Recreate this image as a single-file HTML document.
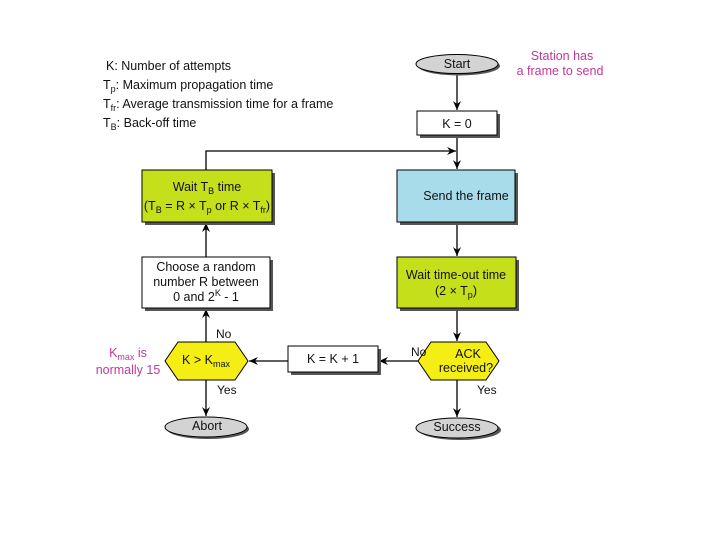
<!DOCTYPE html>
<html><head><style>
body{margin:0;background:#fff;}
svg{display:block;font-family:"Liberation Sans",sans-serif;}
</style></head><body>
<svg width="720" height="540" viewBox="0 0 720 540" xmlns="http://www.w3.org/2000/svg">
<defs>
<marker id="a" markerWidth="10" markerHeight="10" refX="9" refY="5" orient="auto" markerUnits="userSpaceOnUse">
<path d="M0,1 L9,5 L0,9 L3,5 Z" fill="#000"/></marker>
</defs>
<g font-size="12.5" fill="#111">
<text x="106" y="70">K: Number of attempts</text>
<text x="103" y="89">T<tspan font-size="9" dy="3">p</tspan><tspan dy="-3">: Maximum propagation time</tspan></text>
<text x="103" y="108">T<tspan font-size="9" dy="3">fr</tspan><tspan dy="-3">: Average transmission time for a frame</tspan></text>
<text x="103" y="127">T<tspan font-size="9" dy="3">B</tspan><tspan dy="-3">: Back-off time</tspan></text>
</g>
<g fill="#c0399a" font-size="12.5" text-anchor="middle">
<text x="562" y="60">Station has</text>
<text x="560" y="75">a frame to send</text>
<text x="128" y="357">K<tspan font-size="9" dy="3">max</tspan><tspan dy="-3"> is</tspan></text>
<text x="128" y="374">normally 15</text>
</g>
<g stroke="#000" stroke-width="1.3" fill="none">
<line x1="457" y1="73" x2="457" y2="110" marker-end="url(#a)"/>
<line x1="457" y1="135" x2="457" y2="169" marker-end="url(#a)"/>
<polyline points="206,170 206,151 456,151" marker-end="url(#a)"/>
<line x1="457" y1="222" x2="457" y2="256" marker-end="url(#a)"/>
<line x1="457" y1="308" x2="457" y2="341" marker-end="url(#a)"/>
<line x1="457" y1="380" x2="457" y2="417" marker-end="url(#a)"/>
<line x1="418" y1="361" x2="379" y2="361" marker-end="url(#a)"/>
<line x1="288" y1="361" x2="249" y2="361" marker-end="url(#a)"/>
<line x1="206" y1="342" x2="206" y2="309" marker-end="url(#a)"/>
<line x1="206" y1="258" x2="206" y2="223" marker-end="url(#a)"/>
<line x1="206" y1="380" x2="206" y2="416" marker-end="url(#a)"/>
</g>
<g fill="#555">
<ellipse cx="459" cy="66" rx="41" ry="9.5"/>
<rect x="420" y="114" width="80" height="24"/>
<rect x="145" y="173" width="130" height="52"/>
<rect x="400" y="173" width="118" height="52"/>
<rect x="145" y="260" width="128" height="51"/>
<rect x="400" y="260" width="119" height="51"/>
<rect x="291" y="349" width="90" height="26"/>
<ellipse cx="208" cy="429" rx="41" ry="10"/>
<ellipse cx="460" cy="430" rx="41" ry="10"/>
</g>
<g stroke="#000" stroke-width="1">
<ellipse cx="457" cy="64" rx="41" ry="9.5" fill="#d3d3d3"/>
<rect x="417" y="111" width="80" height="24" fill="#fff"/>
<rect x="142" y="170" width="130" height="52" fill="#c5e01a"/>
<rect x="397" y="170" width="118" height="52" fill="#a9dcea"/>
<rect x="142" y="257" width="128" height="51" fill="#fff"/>
<rect x="397" y="257" width="119" height="51" fill="#c5e01a"/>
<polygon points="165,361 178,342 235,342 248,361 235,380 178,380" fill="#f5ee14"/>
<rect x="288" y="346" width="90" height="26" fill="#fff"/>
<polygon points="418,361 431,342 486,342 499,361 486,380 431,380" fill="#f5ee14"/>
<ellipse cx="206" cy="427" rx="41" ry="10" fill="#d3d3d3"/>
<ellipse cx="457" cy="428" rx="41" ry="10" fill="#d3d3d3"/>
</g>
<g font-size="12.5" fill="#111" text-anchor="middle">
<text x="457" y="68">Start</text>
<text x="457" y="128">K = 0</text>
<text x="207" y="191">Wait T<tspan font-size="9" dy="3">B</tspan><tspan dy="-3"> time</tspan></text>
<text x="207" y="210">(T<tspan font-size="9" dy="3">B</tspan><tspan dy="-3"> = R × T</tspan><tspan font-size="9" dy="3">p</tspan><tspan dy="-3"> or R × T</tspan><tspan font-size="9" dy="3">fr</tspan><tspan dy="-3">)</tspan></text>
<text x="466" y="200">Send the frame</text>
<text x="206" y="271">Choose a random</text>
<text x="206" y="286">number R between</text>
<text x="206" y="301">0 and 2<tspan font-size="9" dy="-5">K</tspan><tspan dy="5"> - 1</tspan></text>
<text x="456" y="279">Wait time-out time</text>
<text x="456" y="295">(2 × T<tspan font-size="9" dy="3">p</tspan><tspan dy="-3">)</tspan></text>
<text x="206" y="364">K &gt; K<tspan font-size="9" dy="3">max</tspan></text>
<text x="333" y="363">K = K + 1</text>
<text x="468" y="358">ACK</text>
<text x="466" y="372">received?</text>
<text x="207" y="430">Abort</text>
<text x="457" y="431">Success</text>
</g>
<g font-size="12" fill="#111">
<text x="216" y="338">No</text>
<text x="217" y="394">Yes</text>
<text x="411" y="356">No</text>
<text x="477" y="394">Yes</text>
</g>
</svg>
</body></html>
